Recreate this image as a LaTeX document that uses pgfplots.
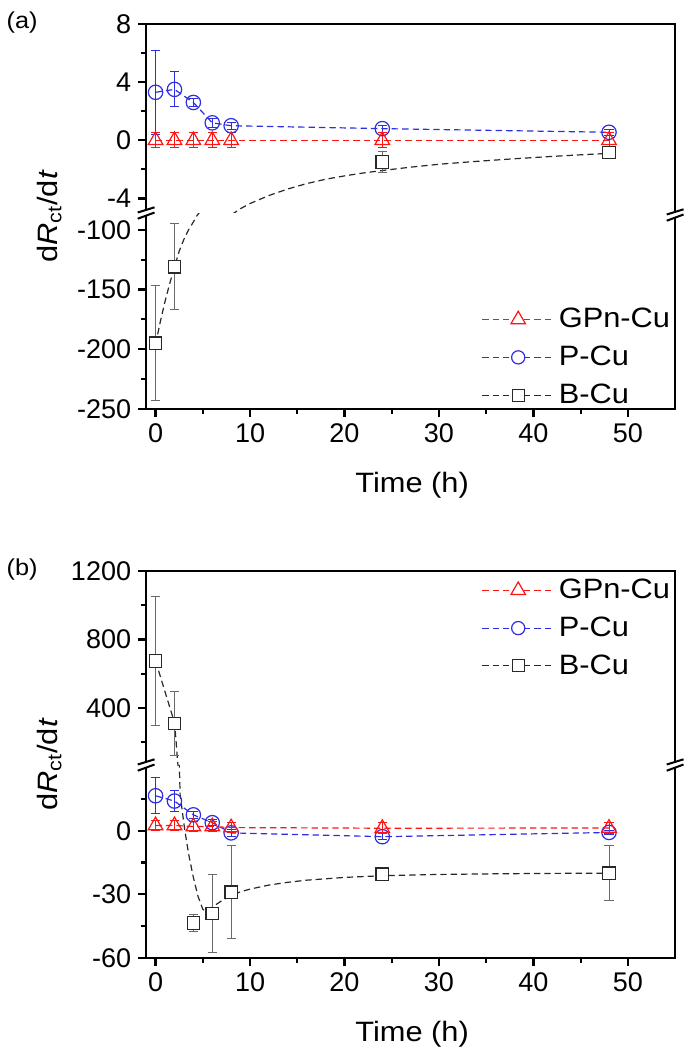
\documentclass[border=0pt]{standalone}
\usepackage{fontspec}
\setmainfont[FakeStretch=1.1]{Liberation Sans}
\newfontfamily\tickfont{Liberation Sans}
\usepackage{pgfplots}
\usepackage{pgfplotstable}
\pgfplotsset{compat=1.18}
\definecolor{myred}{RGB}{255,20,20}
\definecolor{myblue}{RGB}{45,45,225}
\definecolor{mydark}{RGB}{40,40,40}
\definecolor{errgray}{RGB}{105,105,105}

% ---------- panel (a) data ----------
\pgfplotstableread{
x y e
0 0 0.5
2 0 0.5
4 0 0.5
6 0 0.5
8 0 0.5
24 0 0.5
48 0 0.5
}\aG
\pgfplotstableread{
x y e
0 3.3 2.9
2 3.5 1.2
4 2.6 0.3
6 1.2 0.3
8 1.0 0.25
24 0.8 0.25
48 0.55 0.2
}\aP
\pgfplotstableread{
x y e
0 -195 48
2 -131 36
24 -1.5 0.75
48 -0.85 0.2
}\aB
\pgfplotstableread{
x y
0 -196
0.5 -177
1 -160
1.5 -145
2 -131
2.5 -118
3 -108
3.5 -100
4 -93.5
4.4 -88
4.8 -84
5.3 -80
7.6 -6
8.2 -5.05
9 -4.7
10 -4.35
12 -3.8
14 -3.35
16 -2.98
18 -2.68
20 -2.45
22 -2.25
24 -2.08
27 -1.85
30 -1.65
34 -1.45
38 -1.27
42 -1.11
45 -1.0
48 -0.9
}\aBfit

% ---------- panel (b) data ----------
\pgfplotstableread{
x y e
0 2.5 2.5
2 2.5 2.5
4 2 2.5
6 2 2.5
8 1.5 2.5
24 1.2 2.5
48 1.3 2.5
}\bG
\pgfplotstableread{
x y e
0 16.5 8.5
2 14 5
4 7.5 1.5
6 3.8 1.5
8 -1 1.5
24 -2.8 1.5
48 -0.8 1
}\bP
\pgfplotstableread{
x y e
0 675 377
2 310 185
4 -43.5 4
6 -39 18.5
8 -29 22
24 -20.5 2
48 -20 13
}\bB
\pgfplotstableread{
x y
0 675
0.5 585
1 495
1.5 405
2 315
2.15 220
2.3 110
2.4 50
2.6 17
3.1 0
3.5 -11
4 -22
4.5 -31
5 -37
5.3 -38
5.7 -37
6 -36
7 -33
8 -30.5
9 -28.8
10 -27.5
12 -25.6
14 -24.3
16 -23.3
20 -22
24 -21.2
30 -20.6
36 -20.3
42 -20.1
48 -20
}\bBfit

\pgfplotsset{
  brk/.style={
    scale only axis, width=264.5pt, xmin=-1, xmax=55,
    axis line style={draw=none},
    tick align=outside, ytick pos=left, xtick pos=left,
    major tick length=4pt, minor tick length=2.5pt,
    tick style={black, line width=1.1pt},
    tick label style={font=\tickfont\fontsize{13.5}{15}\selectfont},
    /pgf/number format/assume math mode=true,
    /pgf/number format/1000 sep={},
    scaled y ticks=false, scaled x ticks=false,
    clip=true,
    legend style={draw=none, fill=none, inner sep=0pt, outer sep=0pt,
      font=\fontsize{14}{16}\selectfont, row sep=3.6pt,
      cells={anchor=west}},
    legend image code/.code={\draw[mark repeat=2,mark phase=2,##1] plot coordinates {(0pt,0pt) (18pt,0pt) (36pt,0pt)};},
  },
  topax/.style={xtick=\empty},
  botax/.style={xtick={0,10,...,50}, minor xtick={5,15,25,35,45}},
  serG/.style={color=myred, line width=0.6pt, dash pattern=on 3.2pt off 2pt, mark=triangle, mark size=4.2pt, mark options={solid, line width=0.6pt}},
  serP/.style={color=myblue, line width=0.6pt, dash pattern=on 3.2pt off 2pt, mark=o, mark size=3.6pt, mark options={solid, line width=0.6pt}},
  serBline/.style={color=mydark, line width=0.6pt, dash pattern=on 3.2pt off 2pt},
  serBmark/.style={only marks, color=mydark, mark=square*, mark size=3.1pt, mark options={solid, fill=white, draw=mydark, line width=0.6pt}},
  errs/.style={error bars/y dir=both, error bars/y explicit,
    error bars/error bar style={line width=0.5pt, solid},
    error bars/error mark options={rotate=90, mark size=2.3pt, line width=0.5pt, solid}},
  errsB/.style={error bars/y dir=both, error bars/y explicit,
    error bars/error bar style={errgray, line width=0.5pt, solid},
    error bars/error mark options={errgray, rotate=90, mark size=2.3pt, line width=0.5pt, solid}},
}

\newcommand{\plotsA}{%
  \addplot[serBline, forget plot] table[x=x,y=y]{\aBfit};
  \addplot[forget plot, serBmark, errsB] table[x=x,y=y,y error=e]{\aB};
  \addplot[forget plot, serP, errs] table[x=x,y=y,y error=e]{\aP};
  \addplot[forget plot, serG, errs] table[x=x,y=y,y error=e]{\aG};
}
\newcommand{\plotsB}{%
  \addplot[serBline, forget plot] table[x=x,y=y]{\bBfit};
  \addplot[forget plot, serBmark, errsB] table[x=x,y=y,y error=e]{\bB};
  \addplot[forget plot, serP, errs] table[x=x,y=y,y error=e]{\bP};
  \addplot[forget plot, serG, errs] table[x=x,y=y,y error=e]{\bG};
}
\newcommand{\legendentries}{%
  \addlegendimage{serG, mark=triangle*, mark options={solid, fill=white, line width=0.6pt}}\addlegendentry{GPn-Cu}
  \addlegendimage{serP, mark=*, mark size=3.3pt, mark options={solid, fill=white, line width=0.6pt}}\addlegendentry{P-Cu}
  \addlegendimage{serBline, mark=square*, mark size=3pt, mark options={solid, fill=white, draw=mydark, line width=0.6pt}}\addlegendentry{B-Cu}
}
\newcommand{\brkmark}[2]{%
  \begin{scope}[shift={(#1,#2)}]
    \fill[white] (-4.2pt,-0.25pt) -- (4.2pt,2.85pt) -- (4.2pt,0.25pt) -- (-4.2pt,-2.85pt) -- cycle;
    \draw[line width=1pt] (-4.2pt,0.25pt) -- (4.2pt,2.85pt);
    \draw[line width=1pt] (-4.2pt,-2.85pt) -- (4.2pt,0.25pt);
  \end{scope}}

\begin{document}
\begin{tikzpicture}
\path (0pt,0pt) rectangle (342.5pt,-528pt);

% ================= panel (a) =================
\begin{axis}[brk, topax, at={(71.5pt,-12pt)}, anchor=north west, height=94.5pt,
  ymin=-5, ymax=8, ytick={-4,0,4,8}, minor ytick={-2,2,6}]
  \plotsA
\end{axis}
\begin{axis}[brk, botax, at={(71.5pt,-106.5pt)}, anchor=north west, height=98pt,
  ymin=-250, ymax=-86, ytick={-250,-200,-150,-100}, minor ytick={-225,-175,-125},
  legend style={at={(0.998,0.534)}, anchor=north east}]
  \plotsA
  \legendentries
\end{axis}
\draw[line width=1.3pt] (71.5pt,-12pt) rectangle (336pt,-204.5pt);
\brkmark{71.5pt}{-106.5pt}
\brkmark{336pt}{-107.5pt}
\node[font=\fontsize{11.5}{13}\selectfont] at (9.5pt,-11.5pt) {(a)};
\node[font=\fontsize{14}{16}\selectfont, rotate=90] at (23pt,-108.25pt) {d\textit{R}\textsubscript{ct}/d\textit{t}};
\node[font=\fontsize{14}{16}\selectfont, anchor=base] at (204.5pt,-246pt) {Time (h)};

% ================= panel (b) =================
\begin{axis}[brk, topax, at={(71.5pt,-285.5pt)}, anchor=north west, height=97pt,
  ymin=67, ymax=1200, ytick={400,800,1200}, minor ytick={200,600,1000},
  legend style={at={(0.998,0.979)}, anchor=north east}]
  \plotsB
  \legendentries
\end{axis}
\begin{axis}[brk, botax, at={(71.5pt,-382.5pt)}, anchor=north west, height=96.5pt,
  ymin=-60, ymax=31, ytick={-60,-30,0}, minor ytick={-45,-15,15}]
  \plotsB
\end{axis}
\draw[line width=1.3pt] (71.5pt,-285.5pt) rectangle (336pt,-479pt);
\brkmark{71.5pt}{-382.5pt}
\brkmark{336pt}{-382.5pt}
\node[font=\fontsize{11.5}{13}\selectfont] at (9.5pt,-285pt) {(b)};
\node[font=\fontsize{14}{16}\selectfont, rotate=90] at (23pt,-382.25pt) {d\textit{R}\textsubscript{ct}/d\textit{t}};
\node[font=\fontsize{14}{16}\selectfont, anchor=base] at (204.5pt,-520.5pt) {Time (h)};
\end{tikzpicture}
\end{document}
